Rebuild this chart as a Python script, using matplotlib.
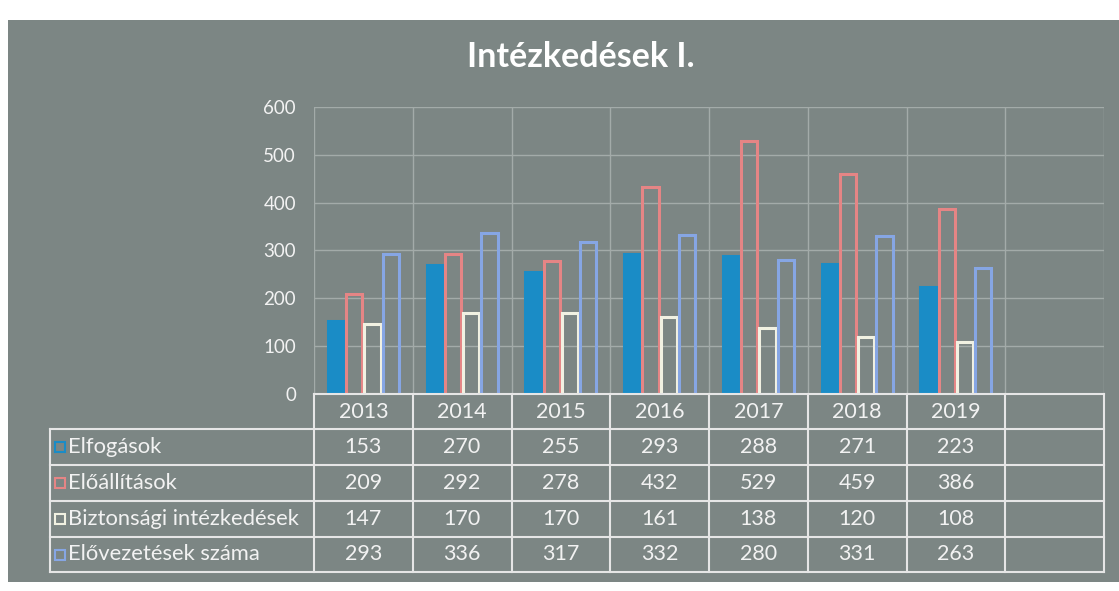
import matplotlib
matplotlib.use("Agg")
import matplotlib.pyplot as plt
from matplotlib.patches import Rectangle
from matplotlib.transforms import blended_transform_factory
import numpy as np

years = ["2013", "2014", "2015", "2016", "2017", "2018", "2019"]
series_names = ["Elfogások", "Előállítások", "Biztonsági intézkedések", "Elővezetések száma"]
elfogasok = [153, 270, 255, 293, 288, 271, 223]
eloallitasok = [209, 292, 278, 432, 529, 459, 386]
biztonsagi = [147, 170, 170, 161, 138, 120, 108]
elovezetesek = [293, 336, 317, 332, 280, 331, 263]
yticks = [0, 100, 200, 300, 400, 500, 600]
title = "Intézkedések I."

series = [elfogasok, eloallitasok, biztonsagi, elovezetesek]
edge_colors = ["#1a8cc6", "#e58585", "#f1f1e2", "#86a6e4"]
face_colors = ["#1a8cc6", "none", "none", "none"]

W, H = 1119, 591
BG = "#7c8684"
GRID = "#a3aba9"
TXT = "#f2f2f2"
plt.rcParams['font.family'] = ['Lato', 'DejaVu Sans']

fig = plt.figure(figsize=(W / 100, H / 100), dpi=100)
fig.patch.set_facecolor("white")

def fx(x):
    return x / W

def fy(y):
    return 1 - y / H

fig.patches.append(Rectangle((fx(8), fy(582)), 1 - fx(8), fy(20) - fy(582),
                             transform=fig.transFigure, facecolor=BG, edgecolor="none", zorder=-10))

ax_left, ax_right, ax_top, ax_bot = 314, 1104, 107, 394
ax = fig.add_axes([fx(ax_left), fy(ax_bot), fx(ax_right) - fx(ax_left), fy(ax_top) - fy(ax_bot)])
ax.set_facecolor("none")
ncat = len(years) + 1  # extra empty slot, as in the source chart
ax.set_xlim(-0.5, ncat - 0.5)
ax.set_ylim(0, 600)
ax.set_yticks(yticks)
ax.set_yticklabels([str(t) for t in yticks], fontsize=13.5, color=TXT)
ax.tick_params(axis="y", length=0, pad=13)
ax.set_xticks([])
for t in yticks:
    ax.axhline(t, color=GRID, lw=1, zorder=0.5)
for i in range(ncat + 1):
    ax.axvline(i - 0.5, color=GRID, lw=1, zorder=0.5)
for s in ax.spines.values():
    s.set_visible(False)

x = np.arange(len(years))
bw = 0.165
offs = [-1.5, -0.5, 0.5, 1.5]
for k, vals in enumerate(series):
    ax.bar(x + offs[k] * 0.185, vals, width=bw, facecolor=face_colors[k],
           edgecolor=edge_colors[k], linewidth=2.2, zorder=2)

fig.text(0.519, fy(57), title, ha="center", va="center", fontsize=24.5,
         fontweight="bold", color="white")

# data table
tr = blended_transform_factory(ax.transData, fig.transFigure)
LINE = "#e6e6e6"
row_y = [394, 429, 465, 501, 537, 572]
label_left = 50
tbl_right = ncat - 0.5
ax.plot([-0.5, tbl_right], [fy(row_y[0])] * 2, transform=tr, color=LINE, lw=1.5, clip_on=False)
for yy in row_y[1:]:
    fig.add_artist(plt.Line2D([fx(label_left), fx(ax_right)], [fy(yy)] * 2,
                              transform=fig.transFigure, color=LINE, lw=1.5))
for i in range(ncat + 1):
    ax.plot([i - 0.5] * 2, [fy(row_y[0]), fy(row_y[-1])], transform=tr,
            color=LINE, lw=1.5, clip_on=False)
fig.add_artist(plt.Line2D([fx(label_left)] * 2, [fy(row_y[1]), fy(row_y[-1])],
                          transform=fig.transFigure, color=LINE, lw=1.5))
for i, yr in enumerate(years):
    ax.text(i, fy((row_y[0] + row_y[1]) / 2), yr, transform=tr, ha="center", va="center",
            fontsize=15.5, color=TXT)
for r, (name, vals) in enumerate(zip(series_names, series)):
    yc = fy((row_y[r + 1] + row_y[r + 2]) / 2)
    fig.patches.append(Rectangle((fx(55), yc - 5 / H), 10 / W, 10 / H, transform=fig.transFigure,
                                 facecolor="none", edgecolor=edge_colors[r], lw=1.5))
    fig.text(fx(68), yc, name, ha="left", va="center", fontsize=15.8, color=TXT)
    for i, v in enumerate(vals):
        ax.text(i, yc, str(v), transform=tr, ha="center", va="center", fontsize=15.5, color=TXT)

fig.savefig("out.png", dpi=100, facecolor=fig.get_facecolor())
